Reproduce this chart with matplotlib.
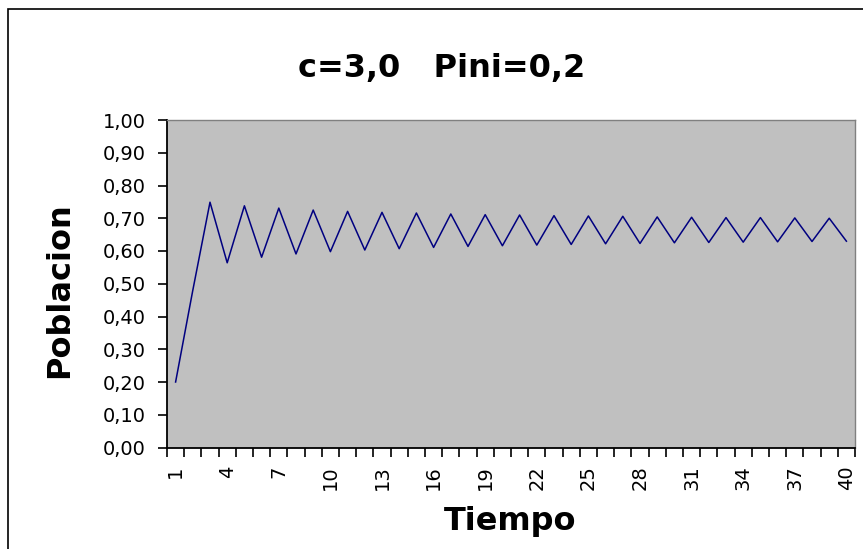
import matplotlib
matplotlib.use("Agg")
import matplotlib.pyplot as plt
from matplotlib.patches import Rectangle

plt.rcParams["font.family"] = ["DejaVu Sans"]

# logistic population, c=3.0, P0=0.2
tiempo = list(range(1, 41))
poblacion = [0.200, 0.480, 0.749, 0.564, 0.738, 0.581, 0.731, 0.591, 0.725, 0.598,
             0.721, 0.603, 0.718, 0.607, 0.716, 0.611, 0.713, 0.614, 0.711, 0.616,
             0.710, 0.618, 0.708, 0.620, 0.707, 0.622, 0.706, 0.623, 0.704, 0.625,
             0.703, 0.626, 0.702, 0.627, 0.702, 0.628, 0.701, 0.629, 0.700, 0.630]
y_ticks = [0.0, 0.1, 0.2, 0.3, 0.4, 0.5, 0.6, 0.7, 0.8, 0.9, 1.0]
x_label_pos = list(range(1, 41, 3))

W, H = 863, 549
fig = plt.figure(figsize=(W / 100, H / 100), dpi=100)
fig.patches.append(Rectangle((8 / W, -0.1), 1.1, 1 - 9 / H + 0.1, transform=fig.transFigure,
                             fill=False, edgecolor="black", lw=1.2))
ax = fig.add_axes([167 / W, 1 - 447.5 / H, 688 / W, 327.5 / H])
ax.set_facecolor("#c0c0c0")
ax.plot(tiempo, poblacion, color="#000080", lw=1.1)

ax.set_xlim(0.5, 40.5)
ax.set_ylim(0, 1)
ax.set_yticks(y_ticks)
ax.set_yticklabels([f"{v:.2f}".replace(".", ",") for v in y_ticks], fontsize=14)
ax.set_xticks([i + 0.5 for i in range(0, 41)])
ax.set_xticklabels([])
ax.set_xticks(x_label_pos, minor=True)
ax.set_xticklabels([str(v) for v in x_label_pos], minor=True, rotation=90, fontsize=14)
ax.tick_params(axis="x", which="major", length=6.5, width=1.2, direction="out")
ax.tick_params(axis="x", which="minor", length=0, pad=13)
ax.tick_params(axis="y", length=6.5, width=1.2, direction="out", pad=9)

for s in ("left", "bottom"):
    ax.spines[s].set_color("black")
    ax.spines[s].set_linewidth(1.3)
for s in ("top", "right"):
    ax.spines[s].set_color("#808080")
    ax.spines[s].set_linewidth(1.0)

fig.text(442 / W, 1 - 77 / H, "c=3,0   Pini=0,2", fontsize=23, fontweight="bold",
         ha="center", va="baseline")
fig.text(60 / W, 1 - 290 / H, "Poblacion", fontsize=23, fontweight="bold",
         rotation=90, ha="center", va="center")
fig.text(510 / W, 1 - 530 / H, "Tiempo", fontsize=23, fontweight="bold",
         ha="center", va="baseline")

fig.savefig("out.png", dpi=100)
